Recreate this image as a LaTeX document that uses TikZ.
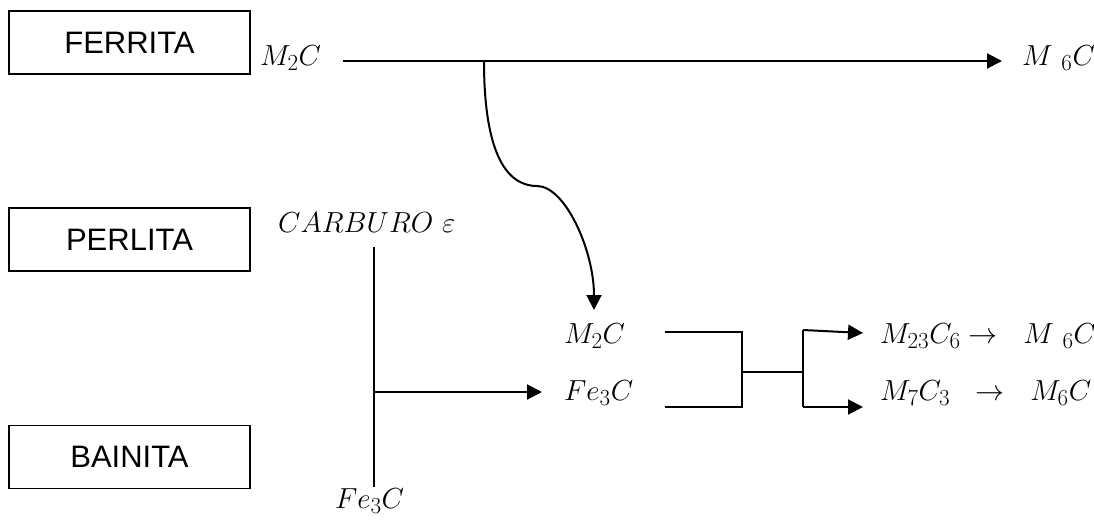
\RequirePackage{fix-cm}
\documentclass[tikz,border=0pt]{standalone}
\usepackage{fontspec}
\newfontfamily\arial{Liberation Sans}
\newcommand\ind[1]{_{\mbox{\fontsize{23}{26}\selectfont #1}}}
\usepackage{tikz}
\usetikzlibrary{arrows.meta}
\tikzset{
  caja/.style={rectangle, draw, line width=1.8pt, minimum width=241pt,
    minimum height=63pt, inner sep=0pt, font=\arial\fontsize{31}{36}\selectfont},
  formula/.style={inner sep=0pt, anchor=base west, font=\fontsize{29}{34}\selectfont},
  flecha/.style={-{Triangle[length=15pt, width=15pt]}, line width=2pt},
  linea/.style={line width=1.6pt},
}

\begin{document}
\begin{tikzpicture}[x=1pt, y=-1pt]
    \useasboundingbox (0,0) rectangle (1094,520);
    % fases
    \node[caja] (ferrita) at (129.5,42.5) {FERRITA};
    \node[caja] (perlita) at (129.5,239.5) {PERLITA};
    \node[caja] (bainita) at (129.5,457) {BAINITA};

    % carburos
    \node[formula] (mdos) at (260,65) {$M\ind{2}C$};
    \node[formula] (mseis) at (1022,65) {$M\ {}\ind{6}C$};
    \node[formula] (carburo) at (278,232) {$CARBURO\ \varepsilon$};
    \node[formula] (fetres) at (335,508) {$Fe\ind{3}C$};
    \node[formula] (mdosb) at (564,343) {$M\ind{2}C$};
    \node[formula] (fetresb) at (564,400) {$Fe\ind{3}C$};
    \node[formula] (mveinti) at (880,343) {$M\ind{23}C\ind{6} \rightarrow\ \ M\ {}\ind{6}C$};
    \node[formula] (msiete) at (880,400) {$M\ind{7}C\ind{3}\ \ \rightarrow\ \ M\ind{6}C$};

    % puntos de las lineas
    \coordinate (ini) at (343,61);
    \coordinate (fin) at (1002,61);
    \coordinate (rama) at (484,61);
    \coordinate (codo) at (537,186);
    \coordinate (punta) at (594,310);
    \coordinate (vsup) at (374,247);
    \coordinate (vinf) at (374,487);
    \coordinate (vmed) at (374,392);
    \coordinate (vfin) at (542,392);
    \coordinate (ca) at (665,332);
    \coordinate (cb) at (742,332);
    \coordinate (cc) at (742,407);
    \coordinate (cd) at (665,407);
    \coordinate (ce) at (742,372);
    \coordinate (cf) at (803,372);
    \coordinate (cg) at (803,330);
    \coordinate (ch) at (803,407);
    \coordinate (ci) at (863,333);
    \coordinate (cj) at (863,407);

    \draw[flecha] (ini) -- (fin);
    \draw[flecha] (rama) .. controls (484,150) and (505,186) .. (codo)
      .. controls (565,186) and (594,250) .. (punta);
    \draw[linea, line width=2pt] (vsup) -- (vinf);
    \draw[flecha] (vmed) -- (vfin);
    \draw[linea] (ca) -- (cb) -- (cc) -- (cd);
    \draw[linea] (ce) -- (cf);
    \draw[linea, line width=2pt] (cg) -- (ch);
    \draw[flecha] (cg) -- (ci);
    \draw[flecha] (ch) -- (cj);
\end{tikzpicture}
\end{document}
